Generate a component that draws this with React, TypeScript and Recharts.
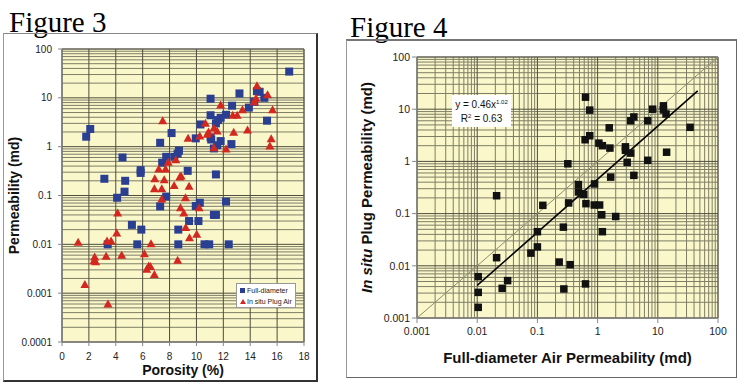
import {
  ScatterChart,
  Scatter,
  XAxis,
  YAxis,
  CartesianGrid,
  ReferenceLine,
  ReferenceArea,
  Legend,
  Label,
} from "recharts";

// Figure 3: porosity (%) vs permeability (md)
const fullDiameter = [
  { x: 1.8, y: 1.6 }, { x: 2.1, y: 2.3 }, { x: 3.15, y: 0.22 }, { x: 3.4, y: 0.01 },
  { x: 4.1, y: 0.09 }, { x: 4.5, y: 0.6 }, { x: 4.65, y: 0.12 }, { x: 4.7, y: 0.2 },
  { x: 5.2, y: 0.025 }, { x: 5.6, y: 0.01 }, { x: 5.85, y: 0.33 }, { x: 5.85, y: 0.29 },
  { x: 5.9, y: 0.02 }, { x: 7.3, y: 1.2 }, { x: 7.3, y: 0.06 }, { x: 7.45, y: 0.47 },
  { x: 7.75, y: 0.62 }, { x: 7.75, y: 0.095 }, { x: 8.15, y: 1.9 }, { x: 8.35, y: 0.62 },
  { x: 8.6, y: 0.72 }, { x: 8.7, y: 0.83 }, { x: 8.65, y: 0.02 }, { x: 8.65, y: 0.01 },
  { x: 9.35, y: 0.32 }, { x: 9.45, y: 0.03 }, { x: 9.95, y: 1.48 }, { x: 9.95, y: 0.061 },
  { x: 10.25, y: 0.071 }, { x: 10.15, y: 0.03 }, { x: 10.3, y: 2.85 }, { x: 10.6, y: 0.01 },
  { x: 10.95, y: 0.01 }, { x: 11.05, y: 9.6 }, { x: 11.05, y: 4.4 }, { x: 11.05, y: 1.55 },
  { x: 11.1, y: 1.4 }, { x: 11.3, y: 0.04 }, { x: 11.45, y: 0.04 }, { x: 11.3, y: 0.92 },
  { x: 11.45, y: 0.27 }, { x: 11.45, y: 3.0 }, { x: 11.55, y: 1.07 }, { x: 11.6, y: 3.5 },
  { x: 11.8, y: 1.3 }, { x: 11.8, y: 3.9 }, { x: 12.2, y: 4.5 }, { x: 12.2, y: 0.075 },
  { x: 12.4, y: 0.01 }, { x: 12.6, y: 1.13 }, { x: 12.65, y: 6.9 }, { x: 13.2, y: 12.3 },
  { x: 13.9, y: 6.3 }, { x: 14.3, y: 8.3 }, { x: 14.5, y: 13.7 }, { x: 14.7, y: 13.3 },
  { x: 15.05, y: 10 }, { x: 15.25, y: 3.4 }, { x: 16.9, y: 34.5 },
];

const plugAir = [
  { x: 1.2, y: 0.011 }, { x: 1.7, y: 0.0015 }, { x: 2.43, y: 0.0055 }, { x: 2.38, y: 0.0046 },
  { x: 2.5, y: 0.0044 }, { x: 3.28, y: 0.0057 }, { x: 3.35, y: 0.0117 }, { x: 3.65, y: 0.0117 },
  { x: 3.42, y: 0.0006 }, { x: 4.07, y: 0.017 }, { x: 4.14, y: 0.044 }, { x: 4.44, y: 0.006 },
  { x: 6.13, y: 0.0064 }, { x: 6.3, y: 0.0031 }, { x: 6.45, y: 0.0036 }, { x: 6.58, y: 0.0035 },
  { x: 6.87, y: 0.0024 }, { x: 6.62, y: 0.0103 }, { x: 6.9, y: 0.22 }, { x: 6.87, y: 0.137 },
  { x: 7.2, y: 0.35 }, { x: 7.42, y: 0.137 }, { x: 7.42, y: 0.085 }, { x: 7.49, y: 3.4 },
  { x: 7.6, y: 0.21 }, { x: 7.7, y: 0.35 }, { x: 7.9, y: 0.48 }, { x: 8.34, y: 0.16 },
  { x: 8.46, y: 0.54 }, { x: 8.6, y: 0.0047 }, { x: 8.81, y: 0.056 }, { x: 8.76, y: 0.24 },
  { x: 8.86, y: 0.25 }, { x: 9.06, y: 0.044 }, { x: 9.18, y: 0.09 }, { x: 9.2, y: 0.022 },
  { x: 9.38, y: 1.48 }, { x: 9.45, y: 0.155 }, { x: 9.48, y: 0.0137 }, { x: 10.02, y: 0.016 },
  { x: 10.2, y: 0.056 }, { x: 10.25, y: 1.66 }, { x: 10.67, y: 3.0 }, { x: 10.8, y: 1.8 },
  { x: 10.9, y: 2.0 }, { x: 11.3, y: 0.95 }, { x: 11.3, y: 2.4 }, { x: 11.54, y: 2.1 },
  { x: 11.8, y: 7.1 }, { x: 12.2, y: 0.9 }, { x: 12.7, y: 4.4 }, { x: 12.77, y: 1.97 },
  { x: 13.03, y: 4.4 }, { x: 13.42, y: 5.7 }, { x: 13.8, y: 2.2 }, { x: 14.3, y: 8.3 },
  { x: 14.43, y: 9.8 }, { x: 14.5, y: 17.7 }, { x: 15.29, y: 11.5 }, { x: 15.46, y: 1.03 },
  { x: 15.56, y: 1.46 }, { x: 15.66, y: 5.7 },
];

// Figure 4: full-diameter (x) vs in situ plug (y) permeability, md
const crossPlot = [
  { x: 0.0104, y: 0.0062 }, { x: 0.0104, y: 0.0031 }, { x: 0.0104, y: 0.0016 },
  { x: 0.021, y: 0.22 }, { x: 0.021, y: 0.0143 }, { x: 0.026, y: 0.0037 },
  { x: 0.032, y: 0.0052 }, { x: 0.078, y: 0.0175 }, { x: 0.1, y: 0.045 },
  { x: 0.1, y: 0.023 }, { x: 0.123, y: 0.144 }, { x: 0.23, y: 0.0118 },
  { x: 0.27, y: 0.055 }, { x: 0.275, y: 0.0036 }, { x: 0.32, y: 0.9 },
  { x: 0.33, y: 0.16 }, { x: 0.35, y: 0.0105 }, { x: 0.48, y: 0.36 },
  { x: 0.48, y: 0.26 }, { x: 0.54, y: 0.24 }, { x: 0.59, y: 0.233 },
  { x: 0.63, y: 17 }, { x: 0.62, y: 2.6 }, { x: 0.64, y: 0.155 },
  { x: 0.63, y: 0.0045 }, { x: 0.74, y: 9.6 }, { x: 0.74, y: 3.1 },
  { x: 0.89, y: 0.37 }, { x: 0.88, y: 0.146 }, { x: 1.05, y: 2.24 },
  { x: 1.08, y: 0.146 }, { x: 1.17, y: 0.095 }, { x: 1.2, y: 0.045 },
  { x: 1.2, y: 2.0 }, { x: 1.56, y: 4.4 }, { x: 1.6, y: 1.8 },
  { x: 1.65, y: 0.5 }, { x: 2.0, y: 0.088 }, { x: 2.9, y: 1.9 },
  { x: 2.9, y: 1.63 }, { x: 3.1, y: 0.96 }, { x: 3.55, y: 6.0 },
  { x: 3.55, y: 1.44 }, { x: 4.0, y: 0.54 }, { x: 4.0, y: 7.1 },
  { x: 6.8, y: 6.0 }, { x: 6.8, y: 1.05 }, { x: 8.2, y: 10 },
  { x: 12.4, y: 11.6 }, { x: 12.4, y: 9.7 }, { x: 13.7, y: 8.1 },
  { x: 14, y: 1.5 }, { x: 34.4, y: 4.5 },
];
const fitLine = [{ x: 0.01, y: 0.0042 }, { x: 46, y: 22.5 }];
const oneToOne = [{ x: 0.001, y: 0.001 }, { x: 100, y: 100 }];

// axis ticks
const porosityTicks = [0, 2, 4, 6, 8, 10, 12, 14, 16, 18];
const fig3Decades = [0.0001, 0.001, 0.01, 0.1, 1, 10, 100];
const fig4Decades = [0.001, 0.01, 0.1, 1, 10, 100];
const minorSteps = [2, 3, 4, 5, 6, 7, 8, 9];

const minorLines = (decades: number[]) =>
  decades.slice(0, -1).flatMap((d) => minorSteps.map((m) => +(d * m).toPrecision(3)));

const FONT = "Arial, 'Liberation Sans', sans-serif";
const PLOT_BG = "#faf7cb";
const MAJOR = "#4d4d3d";
const MINOR = "#7e7e66";
const BLUE = "#2b3f92";
const RED = "#d3281f";

const square = (size: number, color: string) => (p: any) => (
  <rect x={p.cx - size / 2} y={p.cy - size / 2} width={size} height={size} fill={color} />
);
const triangle = (p: any) => (
  <polygon
    points={`${p.cx},${p.cy - 4.5} ${p.cx - 4.5},${p.cy + 3.5} ${p.cx + 4.5},${p.cy + 3.5}`}
    fill={RED}
  />
);
const noDot = () => <g />;

const tickStyle = (size: number) => ({ fontSize: size, fill: "#222", fontFamily: FONT });

const Fig3Legend = () => (
  <div
    style={{
      background: "#fff",
      border: "1px solid #999",
      width: 60,
      height: 25,
      fontFamily: FONT,
      fontSize: 7,
      color: "#222",
      lineHeight: "11px",
      padding: "1px 0 0 3px",
      boxSizing: "border-box",
      whiteSpace: "nowrap",
    }}
  >
    <div>
      <span style={{ display: "inline-block", width: 5, height: 5, background: BLUE, marginRight: 2 }} />
      Full-diameter
    </div>
    <div>
      <svg width={6} height={5} style={{ marginRight: 1 }}>
        <polygon points="3,0 0,5 6,5" fill={RED} />
      </svg>
      In situ Plug Air
    </div>
  </div>
);

const Fig4YLabel = ({ viewBox }: any) => {
  const cx = viewBox.x + 21;
  const cy = viewBox.y + viewBox.height / 2;
  return (
    <text
      x={cx}
      y={cy}
      dy="0.36em"
      transform={`rotate(-90 ${cx} ${cy})`}
      textAnchor="middle"
      fontSize={15}
      fontWeight="bold"
      fontFamily={FONT}
      fill="#111"
    >
      <tspan fontStyle="italic">In situ</tspan> Plug Permeability (md)
    </text>
  );
};

export default function App() {
  const titleStyle = {
    position: "absolute" as const,
    fontFamily: "'Liberation Serif', 'Times New Roman', serif",
    fontSize: 29,
    lineHeight: "29px",
    color: "#000",
  };
  return (
    <div style={{ position: "absolute", left: 0, top: 0, width: 750, height: 388, background: "#fff", overflow: "hidden" }}>
      <div style={{ ...titleStyle, left: 9, top: 8 }}>Figure 3</div>
      <div style={{ ...titleStyle, left: 350, top: 13 }}>Figure 4</div>

      {/* frames */}
      <div
        style={{
          position: "absolute", left: 3, top: 33, width: 315, height: 349,
          borderTop: "1px solid #888", borderLeft: "1px solid #999",
          borderRight: "2px solid #333", borderBottom: "2px solid #333", boxSizing: "border-box",
        }}
      />
      <div
        style={{
          position: "absolute", left: 346, top: 39, width: 391, height: 339,
          borderTop: "2px solid #777", borderLeft: "1px solid #999",
          borderRight: "1px solid #666", borderBottom: "1px solid #666", boxSizing: "border-box",
        }}
      />

      {/* Figure 3 */}
      <div style={{ position: "absolute", left: 3, top: 33 }}>
        <ScatterChart width={315} height={348} margin={{ top: 16, right: 14, bottom: 0, left: 0 }}>
          <CartesianGrid fill={PLOT_BG} horizontal={false} vertical={false} />
          {minorLines(fig3Decades).map((v) => (
            <ReferenceLine key={`h${v}`} y={v} stroke={MINOR} strokeWidth={1} />
          ))}
          {fig3Decades.map((v) => (
            <ReferenceLine key={`H${v}`} y={v} stroke={MAJOR} strokeWidth={1} />
          ))}
          {porosityTicks.map((v) => (
            <ReferenceLine key={`v${v}`} x={v} stroke={MAJOR} strokeWidth={1} />
          ))}
          <ReferenceArea x1={0} x2={18} y1={0.0001} y2={100} fill="none" stroke="#888" ifOverflow="visible" />
          <XAxis
            type="number"
            dataKey="x"
            domain={[0, 18]}
            ticks={porosityTicks}
            height={39}
            tick={tickStyle(10)}
            tickSize={4}
            tickMargin={7}
            stroke="#888"
          >
            <Label
              value="Porosity (%)"
              position="insideBottom"
              offset={6}
              style={{ fontSize: 14, fontWeight: "bold", fontFamily: FONT, fill: "#111" }}
            />
          </XAxis>
          <YAxis
            type="number"
            dataKey="y"
            scale="log"
            domain={[0.0001, 100]}
            ticks={fig3Decades}
            allowDataOverflow
            width={59}
            tick={tickStyle(10)}
            tickSize={4}
            tickMargin={6}
            tickFormatter={(v) => String(v)}
            stroke="#888"
          >
            <Label
              value="Permeability (md)"
              angle={-90}
              position="insideLeft"
              offset={11}
              style={{ fontSize: 14, fontWeight: "bold", fontFamily: FONT, fill: "#111", textAnchor: "middle" }}
            />
          </YAxis>
          <Legend
            layout="vertical"
            align="center"
            verticalAlign="middle"
            wrapperStyle={{ left: 233, top: 250, right: "auto", bottom: "auto", width: "auto" }}
            content={() => <Fig3Legend />}
          />
          <Scatter name="Full-diameter" data={fullDiameter} shape={square(8, BLUE)} isAnimationActive={false} />
          <Scatter name="In situ Plug Air" data={plugAir} shape={triangle} isAnimationActive={false} />
        </ScatterChart>
      </div>

      {/* Figure 4 */}
      <div style={{ position: "absolute", left: 346, top: 40 }}>
        <ScatterChart width={390} height={337} margin={{ top: 17, right: 18, bottom: 0, left: 0 }}>
          <CartesianGrid fill={PLOT_BG} horizontal={false} vertical={false} />
          {minorLines(fig4Decades).map((v) => (
            <ReferenceLine key={`h${v}`} y={v} stroke={MINOR} strokeWidth={1} />
          ))}
          {minorLines(fig4Decades).map((v) => (
            <ReferenceLine key={`v${v}`} x={v} stroke={MINOR} strokeWidth={1} />
          ))}
          {fig4Decades.map((v) => (
            <ReferenceLine key={`H${v}`} y={v} stroke={MAJOR} strokeWidth={1} />
          ))}
          {fig4Decades.map((v) => (
            <ReferenceLine key={`V${v}`} x={v} stroke={MAJOR} strokeWidth={1} />
          ))}
          <ReferenceArea x1={0.001} x2={100} y1={0.001} y2={100} fill="none" stroke="#888" ifOverflow="visible" />
          <XAxis
            type="number"
            dataKey="x"
            scale="log"
            domain={[0.001, 100]}
            ticks={fig4Decades}
            allowDataOverflow
            height={59}
            tick={tickStyle(10.5)}
            tickSize={5}
            tickMargin={5}
            tickFormatter={(v) => String(v)}
            stroke="#888"
          >
            <Label
              value="Full-diameter Air Permeability (md)"
              position="insideBottom"
              offset={14}
              style={{ fontSize: 15, fontWeight: "bold", fontFamily: FONT, fill: "#111" }}
            />
          </XAxis>
          <YAxis
            type="number"
            dataKey="y"
            scale="log"
            domain={[0.001, 100]}
            ticks={fig4Decades}
            allowDataOverflow
            width={71}
            tick={tickStyle(10.5)}
            tickSize={5}
            tickMargin={2}
            tickFormatter={(v) => String(v)}
            stroke="#888"
          >
            <Label content={Fig4YLabel} />
          </YAxis>
          <Scatter data={oneToOne} line={{ stroke: "#8c8c70", strokeWidth: 1 }} shape={noDot} isAnimationActive={false} />
          <Scatter data={fitLine} line={{ stroke: "#000", strokeWidth: 1.6 }} shape={noDot} isAnimationActive={false} />
          <Scatter data={crossPlot} shape={square(7.5, "#111")} isAnimationActive={false} />
        </ScatterChart>
      </div>

      {/* trend equation */}
      <div
        style={{
          position: "absolute", left: 452, top: 95, width: 59, height: 32, background: "#fff",
          fontFamily: FONT, fontSize: 10, color: "#111", textAlign: "center", lineHeight: "14px", paddingTop: 3,
          boxSizing: "border-box",
        }}
      >
        <div>
          y = 0.46x<sup style={{ fontSize: 6, verticalAlign: 4, lineHeight: 0 }}>1.02</sup>
        </div>
        <div>
          R<sup style={{ fontSize: 6, verticalAlign: 4, lineHeight: 0 }}>2</sup> = 0.63
        </div>
      </div>
    </div>
  );
}
